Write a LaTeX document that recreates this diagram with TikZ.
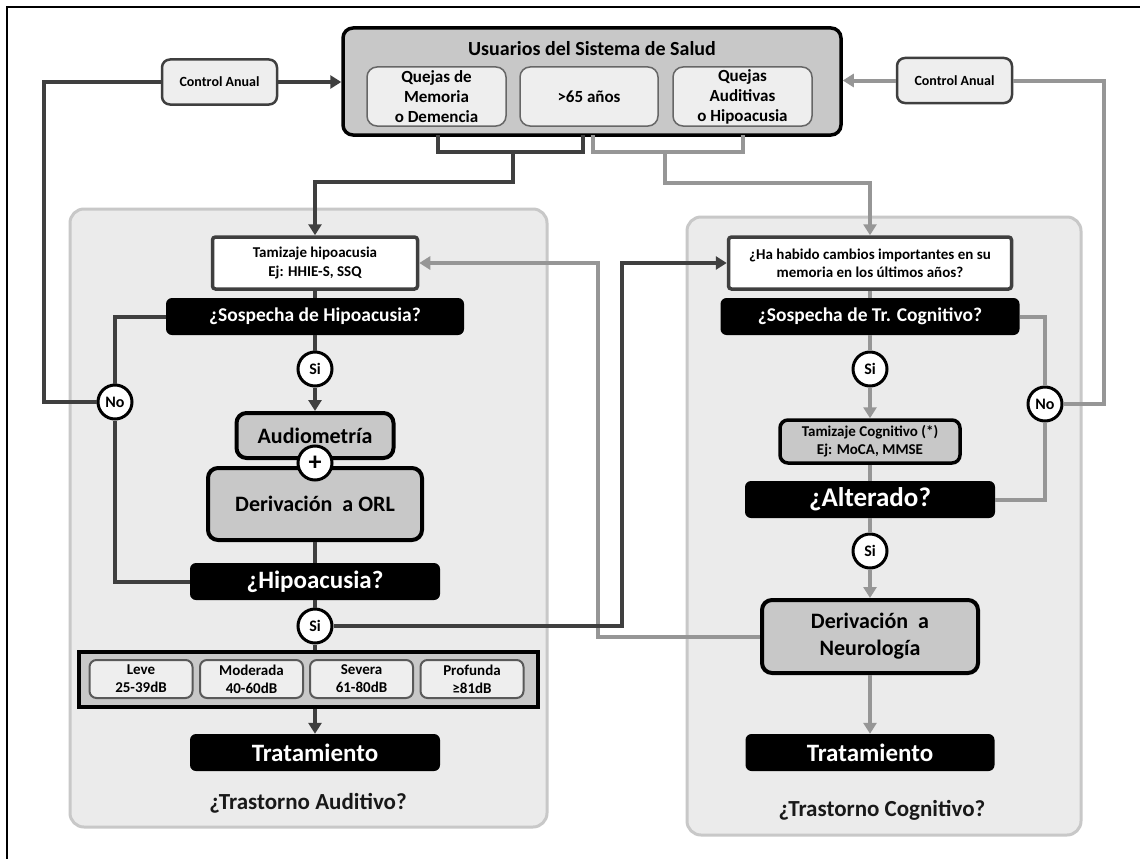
\documentclass[tikz,border=0pt]{standalone}
\usepackage{fontspec}
\setmainfont{Carlito}
\usepackage{tikz}
\usetikzlibrary{arrows.meta}
\definecolor{lnDark}{HTML}{3F3F3F}
\definecolor{lnGray}{HTML}{969696}
\definecolor{boxGray}{HTML}{C8C8C8}
\definecolor{boxLight}{HTML}{EEEEEE}
\definecolor{panelFill}{HTML}{EBEBEB}
\definecolor{panelLine}{HTML}{C8C8C8}
\newcommand{\fsz}[2]{\fontsize{#1}{#2}\selectfont}
\newcommand{\colH}{315}
\newcommand{\colC}{870}
\tikzstyle{flow}=[x=1pt, y=-1pt, line join=miter]
\tikzstyle{panel}=[fill=panelFill, draw=panelLine, line width=3, rounded corners=14]
\tikzstyle{usrbox}=[fill=boxGray, draw=black, line width=3.5, rounded corners=10, inner sep=0]
\tikzstyle{ttl}=[inner sep=0, font=\bfseries\fsz{20}{24}]
\tikzstyle{sub}=[fill=boxLight, draw=black!60, line width=1.5, rounded corners=10, inner sep=0, minimum height=59, align=center, font=\bfseries\fsz{17}{20}]
\tikzstyle{ctrl}=[fill=boxLight, draw=lnDark, line width=2.5, rounded corners=8, inner sep=0, minimum width=115, minimum height=45, font=\bfseries\fsz{14}{16}]
\tikzstyle{scr}=[fill=white, draw=lnDark, line width=3.5, rounded corners=3, inner sep=0, minimum height=52, align=center, font=\bfseries\fsz{15}{18.5}]
\tikzstyle{qst}=[fill=black, text=white, rounded corners=6, inner sep=0, minimum height=37, font=\bfseries\fsz{19.5}{24}]
\tikzstyle{bigq}=[qst, font=\bfseries\fsz{25}{30}]
\tikzstyle{act}=[fill=boxGray, draw=black, line width=4, rounded corners=10, inner sep=0, align=center, font=\bfseries\fsz{22}{27}]
\tikzstyle{ans}=[circle, fill=white, draw=black, line width=3, minimum size=34, inner sep=0, font=\bfseries\fsz{16}{18}]
\tikzstyle{grp}=[fill=boxGray, draw=black, line width=4, inner sep=0, minimum width=459, minimum height=55]
\tikzstyle{lvl}=[fill=boxLight, draw=black!65, line width=2, rounded corners=7, inner sep=0, minimum width=103, minimum height=38, align=center, font=\bfseries\fsz{15}{18}]
\tikzstyle{pttl}=[inner sep=0, text=black!90, font=\bfseries\fsz{23}{27}]
\tikzstyle{darkln}=[draw=lnDark, line width=4]
\tikzstyle{grayln}=[draw=lnGray, line width=4]
\tikzstyle{arr}=[-{Triangle[length=11pt, width=13pt]}]

\begin{document}
\begin{tikzpicture}[flow]
	\fill[white] (0,0) rectangle (1140,859);
	\useasboundingbox (0,0) rectangle (1140,859);
	\draw[black, line width=2] (7,859) -- (7,7) -- (1140,7);
	%%
	\draw[panel] (70,209) rectangle (547,827);
	\draw[panel] (687,217) rectangle (1081,835);
	%%%%%%
	\draw (592,81.5) node[usrbox, minimum width=498, minimum height=107] (usr) {};
	\draw (592,49) node[ttl] (usrT) {Usuarios del Sistema de Salud};
	\draw (436.5,96.5) node[sub, minimum width=139] (memQ) {Quejas de\\Memoria\\o Demencia};
	\draw (589,96.5) node[sub, minimum width=138] (edad) {>65 años};
	\draw (742.5,96.5) node[sub, minimum width=139] (audQ) {Quejas\\Auditivas\\o Hipoacusia};
	%%
	\draw (219.5,82) node[ctrl] (ctrlL) {Control Anual};
	\draw (954.5,80.5) node[ctrl] (ctrlR) {Control Anual};
	%%%%%%
	\draw (\colH,263) node[scr, minimum width=205] (tamH) {Tamizaje hipoacusia\\Ej: HHIE-S, SSQ};
	\draw (\colH,316.5) node[qst, minimum width=298] (sosH) {¿Sospecha de Hipoacusia?};
	\draw (\colH,369) node[ans] (siH1) {Si};
	\draw (\colH,435.5) node[act, minimum width=157, minimum height=45] (audio) {Audiometría};
	\draw (\colH,504) node[act, minimum width=214, minimum height=72] (orl) {Derivación~ a ORL};
	\draw (\colH,463) node[ans, font=\bfseries\fsz{26}{28}] (plus) {+};
	\draw (\colH,581.5) node[bigq, minimum width=250] (hipo) {¿Hipoacusia?};
	\draw (\colH,626) node[ans] (siH2) {Si};
	\draw (115,402) node[ans] (noL) {No};
	%%
	\draw (308.5,679.5) node[grp] (grado) {};
	\draw (141,679) node[lvl] (leve) {Leve\\25-39dB};
	\draw (251.5,679) node[lvl] (mode) {Moderada\\40-60dB};
	\draw (361.5,679) node[lvl] (seve) {Severa\\61-80dB};
	\draw (472,679) node[lvl] (prof) {Profunda\\≥81dB};
	%%
	\draw (\colH,752.5) node[bigq, minimum width=250] (trtH) {Tratamiento};
	\draw (308,803) node[pttl] (ttlH) {¿Trastorno Auditivo?};
	%%%%%%
	\draw (\colC,263) node[scr, minimum width=283, font=\bfseries\fsz{15}{18}] (cambio) {¿Ha habido cambios importantes en su\\memoria en los últimos años?};
	\draw (\colC,316.5) node[qst, minimum width=299] (sosC) {¿Sospecha de Tr. Cognitivo?};
	\draw (\colC,369) node[ans] (siC1) {Si};
	\draw (\colC,441.5) node[act, minimum width=180, minimum height=43, line width=3.5, rounded corners=8, font=\bfseries\fsz{15}{18}] (tamC) {Tamizaje Cognitivo (*)\\Ej: MoCA, MMSE};
	\draw (\colC,499.5) node[bigq, minimum width=250, font=\bfseries\fsz{27}{32}] (alt) {¿Alterado?};
	\draw (\colC,551) node[ans] (siC2) {Si};
	\draw (\colC,636.5) node[act, minimum width=216, minimum height=73] (neuro) {Derivación~ a\\Neurología};
	\draw (\colC,752.5) node[bigq, minimum width=249] (trtC) {Tratamiento};
	\draw (882,810) node[pttl] (ttlC) {¿Trastorno Cognitivo?};
	\draw (1045,404) node[ans] (noR) {No};
	%%%%%%
	\coordinate (dkA) at (438,135);
	\coordinate (dkB) at (583,135);
	\coordinate (dkM) at (513,152);
	\coordinate (dkK) at (513,182);
	\coordinate (grA) at (593,135);
	\coordinate (grB) at (743,135);
	\coordinate (grM) at (665,152);
	\coordinate (grK) at (665,183);
	\coordinate (loopL) at (44,82);
	\coordinate (loopR) at (1104,80.5);
	\coordinate (xDk) at (622,263);
	\coordinate (xGr) at (598,263);
	%%
	\draw[darkln] (dkA) |- (dkM) -| (dkB);
	\draw[darkln, arr] (dkM) -- (dkK) -| (tamH.north);
	\draw[grayln] (grA) |- (grM) -| (grB);
	\draw[grayln, arr] (grM) -- (grK) -| (cambio.north);
	%%
	\draw[darkln] (noL.west) -| (loopL) -- (ctrlL.west);
	\draw[darkln, arr] (ctrlL.east) -- (ctrlL.east -| usr.west);
	\draw[grayln] (noR.east) -| (loopR) -- (ctrlR.east);
	\draw[grayln, arr] (ctrlR.west) -- (ctrlR.west -| usr.east);
	%%
	\draw[darkln] (tamH.south) -- (sosH.north);
	\draw[darkln] (sosH.south) -- (siH1.north);
	\draw[darkln, arr] (siH1.south) -- (audio.north);
	\draw[darkln] (sosH.west) -| (noL.north);
	\draw[darkln] (noL.south) |- (hipo.west);
	\draw[darkln] (orl.south) -- (hipo.north);
	\draw[darkln] (hipo.south) -- (siH2.north);
	\draw[darkln] (siH2.south) -- (grado.north -| siH2);
	\draw[darkln, arr] (grado.south -| trtH) -- (trtH.north);
	%%
	\draw[grayln] (cambio.south) -- (sosC.north);
	\draw[grayln] (sosC.south) -- (siC1.north);
	\draw[grayln, arr] (siC1.south) -- (tamC.north);
	\draw[grayln] (tamC.south) -- (alt.north);
	\draw[grayln] (alt.south) -- (siC2.north);
	\draw[grayln, arr] (siC2.south) -- (neuro.north);
	\draw[grayln, arr] (neuro.south) -- (trtC.north);
	\draw[grayln] (sosC.east) -| (noR.north);
	\draw[grayln] (noR.south) |- (alt.east);
	%%
	\draw[grayln, arr] (neuro.west) -| (xGr) -- (tamH.east);
	\draw[darkln, arr] (siH2.east) -| (xDk) -- (cambio.west);
\end{tikzpicture}
\end{document}
